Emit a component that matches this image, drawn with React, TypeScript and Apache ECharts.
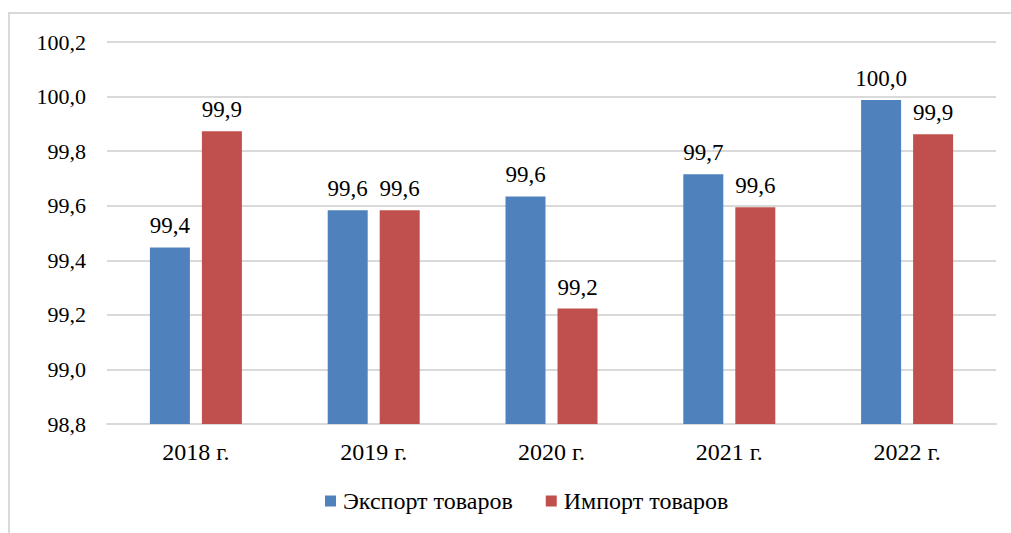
import React, { useEffect, useRef } from "react";
import * as echarts from "echarts";

const categories = ["2018 г.", "2019 г.", "2020 г.", "2021 г.", "2022 г."];
const exportValues = [99.447, 99.583, 99.634, 99.715, 99.987];
const importValues = [99.873, 99.583, 99.223, 99.594, 99.862];
const seriesNames = ["Экспорт товаров", "Импорт товаров"];

const fmt = (v: number) => v.toFixed(1).replace(".", ",");
const FONT = "Liberation Serif";

export default function App() {
  const ref = useRef<HTMLDivElement>(null);
  useEffect(() => {
    const chart = echarts.init(ref.current!, null, { renderer: "svg" });
    const label = {
      show: true,
      position: "top" as const,
      distance: 10,
      color: "#000",
      fontSize: 23,
      fontFamily: FONT,
      formatter: (p: any) => fmt(p.value),
    };
    chart.setOption({
      animation: false,
      backgroundColor: "#fff",
      textStyle: { fontFamily: FONT, fontSize: 22, color: "#000" },
      graphic: [
        {
          type: "rect",
          shape: { x: 9, y: 13, width: 1010, height: 530 },
          style: { fill: "none", stroke: "#d9d9d9", lineWidth: 2 },
          silent: true,
        },
      ],
      grid: { left: 107, right: 15, top: 42, bottom: 109, containLabel: false },
      legend: {
        bottom: 15,
        left: 320,
        itemWidth: 11,
        itemHeight: 11,
        itemGap: 33,
        icon: "rect",
        textStyle: { fontSize: 24, fontFamily: FONT, color: "#000", padding: [0, 0, 0, 2] },
        data: seriesNames,
      },
      xAxis: {
        type: "category",
        data: categories,
        axisLine: { lineStyle: { color: "#d9d9d9", width: 2 } },
        axisTick: { show: false },
        axisLabel: { color: "#000", fontSize: 24, fontFamily: FONT, margin: 16 },
      },
      yAxis: {
        type: "value",
        min: 98.8,
        max: 100.2,
        interval: 0.2,
        axisLine: { show: false },
        axisTick: { show: false },
        splitLine: { lineStyle: { color: "#d9d9d9", width: 2 } },
        axisLabel: {
          color: "#000",
          fontSize: 22,
          fontFamily: FONT,
          margin: 21,
          formatter: (v: number) => fmt(v),
        },
      },
      series: [
        {
          name: seriesNames[0],
          type: "bar",
          data: exportValues,
          barWidth: 40,
          barGap: "30%",
          itemStyle: { color: "#4f81bd" },
          label,
        },
        {
          name: seriesNames[1],
          type: "bar",
          data: importValues,
          barWidth: 40,
          barGap: "30%",
          itemStyle: { color: "#c0504d" },
          label,
        },
      ],
    });
    return () => chart.dispose();
  }, []);
  return (
    <div
      ref={ref}
      style={{ position: "fixed", left: 0, top: 0, width: 1011, height: 533 }}
    />
  );
}
